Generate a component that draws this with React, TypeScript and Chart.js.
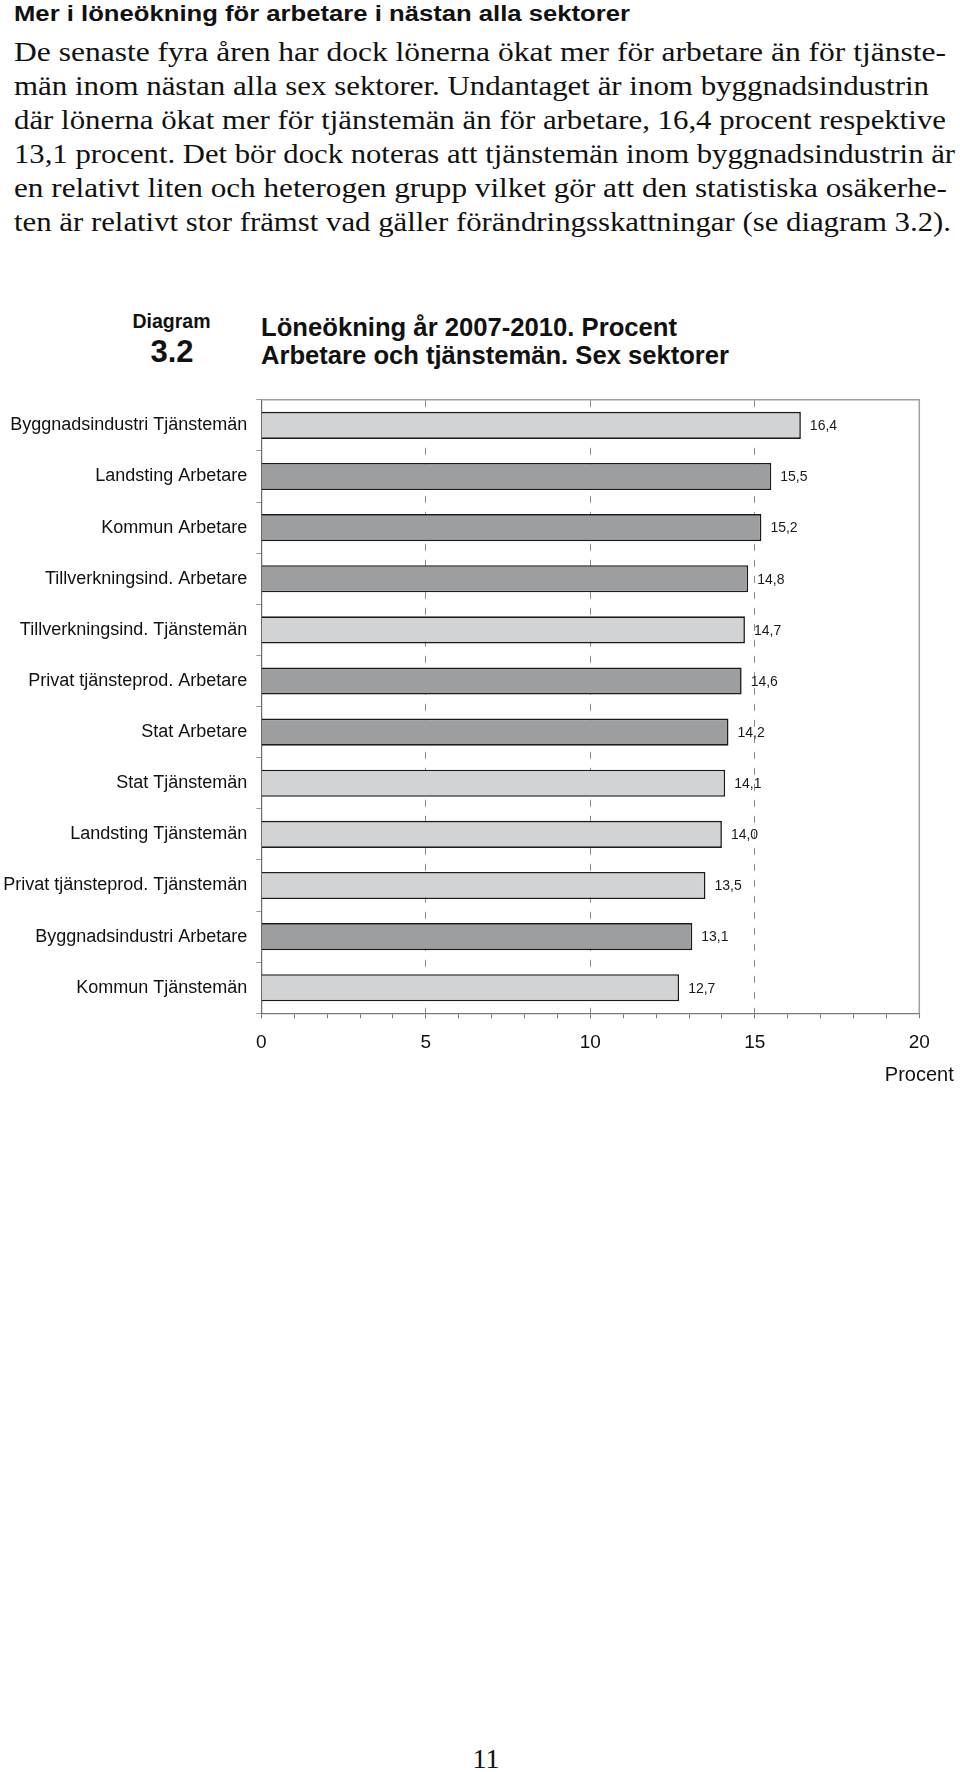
import React, { useEffect, useRef } from 'react';
import { Chart, registerables } from 'chart.js';

Chart.register(...registerables);

// ---------- data ----------
const categories = [
  'Byggnadsindustri Tjänstemän',
  'Landsting Arbetare',
  'Kommun Arbetare',
  'Tillverkningsind. Arbetare',
  'Tillverkningsind. Tjänstemän',
  'Privat tjänsteprod. Arbetare',
  'Stat Arbetare',
  'Stat Tjänstemän',
  'Landsting Tjänstemän',
  'Privat tjänsteprod. Tjänstemän',
  'Byggnadsindustri Arbetare',
  'Kommun Tjänstemän',
];
const values = [16.4, 15.5, 15.2, 14.8, 14.7, 14.6, 14.2, 14.1, 14.0, 13.5, 13.1, 12.7];
const groups = ['T', 'A', 'A', 'A', 'T', 'A', 'A', 'T', 'T', 'T', 'A', 'T'];
const xTickLabels = ['0', '5', '10', '15', '20'];
const xAxisTitle = 'Procent';

const heading = 'Mer i löneökning för arbetare i nästan alla sektorer';
const bodyLines = [
  'De senaste fyra åren har dock lönerna ökat mer för arbetare än för tjänste-',
  'män inom nästan alla sex sektorer. Undantaget är inom byggnadsindustrin',
  'där lönerna ökat mer för tjänstemän än för arbetare, 16,4 procent respektive',
  '13,1 procent. Det bör dock noteras att tjänstemän inom byggnadsindustrin är',
  'en relativt liten och heterogen grupp vilket gör att den statistiska osäkerhe-',
  'ten är relativt stor främst vad gäller förändringsskattningar (se diagram 3.2).',
];
const bodyRightEdges = [946, 929, 946, 955, 947, 951];
const diagramLabel = 'Diagram';
const diagramNumber = '3.2';
const chartTitleLines = ['Löneökning år 2007-2010. Procent', 'Arbetare och tjänstemän. Sex sektorer'];
const chartTitleRightEdges = [677, 729];
const pageNumber = '11';

// ---------- styles ----------
const SANS = '"Liberation Sans", Arial, Helvetica, sans-serif';
const SERIF = '"Liberation Serif", "Times New Roman", serif';
const LIGHT = '#d2d3d5';
const DARK = '#9d9ea0';

const measureCtx: CanvasRenderingContext2D | null =
  typeof document !== 'undefined' ? document.createElement('canvas').getContext('2d') : null;

type TxtProps = {
  text: string;
  x: number;
  baseline: number;
  size: number;
  family: string;
  weight?: string;
  align?: 'left' | 'center';
  width?: number;
  color?: string;
};

function Txt({ text, x, baseline, size, family, weight = 'normal', align = 'left', width, color = '#111' }: TxtProps) {
  const font = `${weight} ${size}px ${family}`;
  let natural = text.length * size * 0.5;
  let asc = size * 0.9;
  let desc = size * 0.22;
  if (measureCtx) {
    measureCtx.font = font;
    const m = measureCtx.measureText(text);
    natural = m.width;
    if (m.fontBoundingBoxAscent) asc = m.fontBoundingBoxAscent;
    if (m.fontBoundingBoxDescent) desc = m.fontBoundingBoxDescent;
  }
  const sx = width ? width / natural : 1;
  const shown = natural * sx;
  const left = align === 'center' ? x - shown / 2 : x;
  const top = baseline - ((size - (asc + desc)) / 2 + asc);
  return (
    <div
      style={{
        position: 'absolute',
        left,
        top,
        fontFamily: family,
        fontSize: size,
        fontWeight: weight as any,
        lineHeight: `${size}px`,
        whiteSpace: 'pre',
        transform: `scaleX(${sx})`,
        transformOrigin: 'left top',
        color,
      }}
    >
      {text}
    </div>
  );
}

const W = 960;
const H = 720;
const PLOT = { left: 261.3, right: 919.3, top: 18.3, bottom: 633.3 };

function BarChart() {
  const ref = useRef<HTMLCanvasElement>(null);
  useEffect(() => {
    if (!ref.current) return;
    const valueLabels = {
      id: 'valueLabels',
      afterDatasetsDraw(chart: any) {
        const ctx = chart.ctx;
        const meta = chart.getDatasetMeta(0);
        ctx.save();
        ctx.font = `14px ${SANS}`;
        ctx.fillStyle = '#1a1a1a';
        ctx.textAlign = 'left';
        ctx.textBaseline = 'middle';
        meta.data.forEach((el: any, i: number) => {
          const v = chart.data.datasets[0].data[i] as number;
          ctx.fillText(v.toFixed(1).replace('.', ','), el.x + 9, el.y + 1);
        });
        ctx.restore();
      },
    };
    const frame = {
      id: 'frame',
      afterDraw(chart: any) {
        const { ctx, chartArea } = chart;
        ctx.save();
        ctx.strokeStyle = '#a0a0a0';
        ctx.lineWidth = 1.5;
        ctx.beginPath();
        ctx.moveTo(chartArea.left, chartArea.top);
        ctx.lineTo(chartArea.right, chartArea.top);
        ctx.lineTo(chartArea.right, chartArea.bottom);
        ctx.stroke();
        const xs = chart.scales.x;
        ctx.font = `20px ${SANS}`;
        ctx.fillStyle = '#111';
        ctx.textAlign = 'center';
        ctx.textBaseline = 'alphabetic';
        ctx.fillText(xAxisTitle, xs.getPixelForValue(xs.max), 701);
        ctx.restore();
      },
    };
    const chart = new Chart(ref.current, {
      type: 'bar',
      data: {
        labels: categories,
        datasets: [
          {
            data: values,
            backgroundColor: groups.map((g) => (g === 'A' ? DARK : LIGHT)),
            borderColor: '#1b1b1b',
            borderWidth: 1.6,
            categoryPercentage: 1,
            barPercentage: 0.53,
          },
        ],
      },
      options: {
        indexAxis: 'y',
        responsive: false,
        maintainAspectRatio: false,
        animation: false,
        layout: { padding: { top: PLOT.top, right: W - PLOT.right, left: 0, bottom: 0 } },
        plugins: { legend: { display: false }, tooltip: { enabled: false }, title: { display: false } },
        scales: {
          x: {
            type: 'linear',
            position: 'bottom',
            min: 0,
            max: 20,
            afterFit: (s: any) => {
              s.height = H - PLOT.bottom;
            },
            ticks: {
              stepSize: 1,
              autoSkip: false,
              maxRotation: 0,
              padding: 13,
              color: '#111',
              font: { family: SANS, size: 19 },
              callback: (v: any) => (xTickLabels.includes(String(v)) ? String(v) : ''),
            },
            grid: {
              color: (c: any) => {
                const v = c.tick ? c.tick.value : -1;
                return v % 5 === 0 && v > 0 && v < 20 ? '#8c8c8c' : 'rgba(0,0,0,0)';
              },
              lineWidth: 1,
              tickLength: 5,
              tickColor: '#7a7a7a',
            },
            border: { display: true, color: '#7a7a7a', width: 1.2, dash: [7, 9] },
          },
          y: {
            type: 'category',
            afterFit: (s: any) => {
              s.width = PLOT.left;
            },
            ticks: { padding: 9, color: '#111', autoSkip: false, font: { family: SANS, size: 18 } },
            grid: { drawOnChartArea: false, tickLength: 5, tickColor: '#9a9a9a', offset: true },
            border: { color: '#6a6a6a', width: 1.2 },
          },
        },
      } as any,
      plugins: [valueLabels, frame],
    });
    return () => chart.destroy();
  }, []);
  return (
    <canvas
      ref={ref}
      width={W}
      height={H}
      style={{ position: 'absolute', left: 0, top: 380, width: W, height: H }}
    />
  );
}

export default function App() {
  return (
    <div
      style={{
        position: 'absolute',
        left: 0,
        top: 0,
        width: 960,
        height: 1772,
        overflow: 'hidden',
        background: '#fff',
      }}
    >
      <Txt text={heading} x={14} baseline={21.5} size={21.5} family={SANS} weight="bold" width={616} />
      {bodyLines.map((t, i) => (
        <Txt
          key={i}
          text={t}
          x={14}
          baseline={61.7 + 33.9 * i}
          size={27}
          family={SERIF}
          width={bodyRightEdges[i] - 14}
        />
      ))}
      <Txt text={diagramLabel} x={171.5} baseline={328.3} size={19.5} family={SANS} weight="bold" align="center" />
      <Txt text={diagramNumber} x={172} baseline={362} size={31} family={SANS} weight="bold" align="center" />
      {chartTitleLines.map((t, i) => (
        <Txt
          key={t}
          text={t}
          x={261}
          baseline={336 + 28 * i}
          size={26}
          family={SANS}
          weight="bold"
          width={chartTitleRightEdges[i] - 261}
        />
      ))}
      <BarChart />
      <Txt text={pageNumber} x={486} baseline={1768} size={28} family={SERIF} align="center" />
    </div>
  );
}
